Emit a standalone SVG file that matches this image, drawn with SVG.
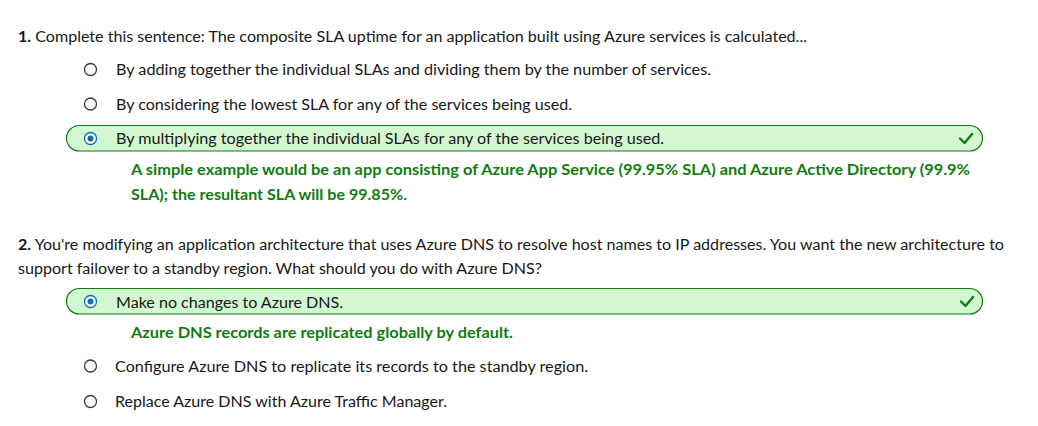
<svg xmlns="http://www.w3.org/2000/svg" width="1038" height="426" viewBox="0 0 1038 426">
<style>
  text { font-family: Lato, "Open Sans", "Noto Sans", sans-serif; font-size: 15.5px; fill: #171717; }
  .b { font-weight: 700; }
  .exp { fill: #107c10; font-weight: 700; }
  .radio { fill: #ffffff; stroke: #3b3b3b; stroke-width: 1.3; }
  .radio-on { fill: #ffffff; stroke: #0f6cbd; stroke-width: 1.3; }
  .dot { fill: #0f6cbd; }
  .pill { fill: #d3f7d0; stroke: #107c10; stroke-width: 1.2; }
  .check { fill: none; stroke: #107c10; stroke-width: 2.4; stroke-linecap: round; stroke-linejoin: round; }
</style>
<rect width="1038" height="426" fill="#ffffff"/>

<g id="q1">
  <text x="18" y="42" textLength="789" lengthAdjust="spacingAndGlyphs"><tspan class="b">1.</tspan> Complete this sentence: The composite SLA uptime for an application built using Azure services is calculated...</text>
</g>
<g id="q1-opt1">
  <circle class="radio" cx="90.5" cy="69.5" r="6"/>
  <text x="116" y="75" textLength="595" lengthAdjust="spacingAndGlyphs">By adding together the individual SLAs and dividing them by the number of services.</text>
</g>
<g id="q1-opt2">
  <circle class="radio" cx="90.5" cy="104" r="6"/>
  <text x="116" y="110" textLength="456" lengthAdjust="spacingAndGlyphs">By considering the lowest SLA for any of the services being used.</text>
</g>
<g id="q1-opt3">
  <rect class="pill" x="66.5" y="125.5" width="916" height="25.5" rx="12.75"/>
  <circle class="radio-on" cx="90.5" cy="138.5" r="6"/>
  <circle class="dot" cx="90.5" cy="138.5" r="3"/>
  <text x="116" y="144" textLength="548" lengthAdjust="spacingAndGlyphs">By multiplying together the individual SLAs for any of the services being used.</text>
  <path class="check" d="M960 138.5 L964.5 143 L972 134"/>
</g>
<g id="q1-explanation">
  <text class="exp" x="131" y="174.5" textLength="839" lengthAdjust="spacingAndGlyphs">A simple example would be an app consisting of Azure App Service (99.95% SLA) and Azure Active Directory (99.9%</text>
  <text class="exp" x="131" y="199.5" textLength="276" lengthAdjust="spacingAndGlyphs">SLA); the resultant SLA will be 99.85%.</text>
</g>

<g id="q2">
  <text x="18" y="249.5" textLength="986" lengthAdjust="spacingAndGlyphs"><tspan class="b">2.</tspan> You're modifying an application architecture that uses Azure DNS to resolve host names to IP addresses. You want the new architecture to</text>
  <text x="18" y="273.5" textLength="524" lengthAdjust="spacingAndGlyphs">support failover to a standby region. What should you do with Azure DNS?</text>
</g>
<g id="q2-opt1">
  <rect class="pill" x="66.5" y="288.5" width="916" height="25.5" rx="12.75"/>
  <circle class="radio-on" cx="90.5" cy="301.5" r="6"/>
  <circle class="dot" cx="90.5" cy="301.5" r="3"/>
  <text x="116" y="307.5" textLength="227" lengthAdjust="spacingAndGlyphs">Make no changes to Azure DNS.</text>
  <path class="check" d="M961 301.5 L965.5 306 L973 297"/>
</g>
<g id="q2-explanation">
  <text class="exp" x="131" y="338" textLength="382" lengthAdjust="spacingAndGlyphs">Azure DNS records are replicated globally by default.</text>
</g>
<g id="q2-opt2">
  <circle class="radio" cx="90.5" cy="366" r="6"/>
  <text x="115" y="371.5" textLength="473" lengthAdjust="spacingAndGlyphs">Configure Azure DNS to replicate its records to the standby region.</text>
</g>
<g id="q2-opt3">
  <circle class="radio" cx="90.5" cy="401.5" r="6"/>
  <text x="115" y="407" textLength="332" lengthAdjust="spacingAndGlyphs">Replace Azure DNS with Azure Traffic Manager.</text>
</g>
<g id="connectors"></g>
</svg>
